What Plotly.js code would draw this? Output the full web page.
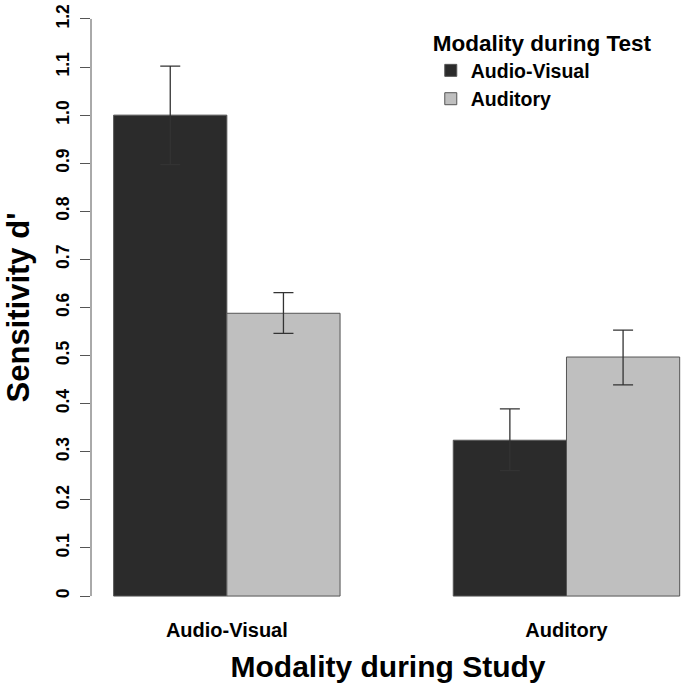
<!DOCTYPE html>
<html>
<head>
<meta charset="utf-8">
<script src="https://cdn.plot.ly/plotly-3.0.1.min.js"></script>
<style>html,body{margin:0;padding:0;background:#fff;overflow:hidden;}#chart{width:685px;height:685px;}</style>
</head>
<body>
<div id="chart"></div>
<script>
const studyCats = ['Audio-Visual', 'Auditory'];
const testNames = ['Audio-Visual', 'Auditory'];
const avTestMeans = [1.0, 0.324];
const avTestErrUp = [0.102, 0.065];
const avTestErrDown = [0.103, 0.063];
const audTestMeans = [0.588, 0.497];
const audTestErrUp = [0.043, 0.056];
const audTestErrDown = [0.042, 0.058];
const yTickVals = [0, 0.1, 0.2, 0.3, 0.4, 0.5, 0.6, 0.7, 0.8, 0.9, 1.0, 1.1, 1.2];
const yTickText = ['0', '0.1', '0.2', '0.3', '0.4', '0.5', '0.6', '0.7', '0.8', '0.9', '1.0', '1.1', '1.2'];

const FONT = 'Liberation Sans, Arial, Helvetica, sans-serif';

function barTrace(name, y, up, down, color) {
  return {
    type: 'bar', name: name, x: studyCats, y: y,
    marker: {color: color, line: {color: '#555555', width: 1}},
    error_y: {type: 'data', symmetric: false, array: up, arrayminus: down,
              color: '#333333', thickness: 1.3, width: 10},
    hoverinfo: 'skip'
  };
}

const data = [
  barTrace(testNames[0], avTestMeans, avTestErrUp, avTestErrDown, '#2b2b2b'),
  barTrace(testNames[1], audTestMeans, audTestErrUp, audTestErrDown, '#bfbfbf')
];

const layout = {
  width: 685, height: 685,
  margin: {l: 91, r: 0, t: 5, b: 75},
  paper_bgcolor: '#ffffff', plot_bgcolor: '#ffffff',
  barmode: 'group', bargap: 1/3, bargroupgap: 0,
  font: {family: FONT, color: '#000000'},
  showlegend: true,
  legend: {
    x: 0.572, y: 0.972, xanchor: 'left', yanchor: 'top',
    title: {text: '<b>Modality during Test</b>', font: {size: 22.5, family: FONT}, side: 'top'},
    font: {size: 19.5, family: FONT, weight: 'bold'},
    bgcolor: 'rgba(0,0,0,0)', traceorder: 'normal'
  },
  xaxis: {
    type: 'category', range: [-0.4, 1.349],
    showline: false, zeroline: false, showgrid: false, ticks: '',
    tickfont: {size: 20, family: FONT, weight: 'bold'},
    ticklabelstandoff: 6,
    title: {text: '<b>Modality during Study</b>', font: {size: 30, family: FONT}, standoff: 15}
  },
  yaxis: {
    range: [-0.029, 1.229],
    showline: false, zeroline: false, showgrid: false,
    ticks: 'outside', ticklen: 10, tickwidth: 1, tickcolor: '#555555',
    tickvals: yTickVals, ticktext: yTickText, tickangle: -90,
    tickfont: {size: 17.5, family: FONT, weight: 'bold'},
    ticklabelstandoff: 4,
    title: {text: '<b>Sensitivity d\'</b>', font: {size: 31, family: FONT}, standoff: 14}
  },
  shapes: [{
    type: 'line', xref: 'paper', yref: 'y', x0: 0, x1: 0, y0: 0, y1: 1.2,
    line: {color: '#555555', width: 1}
  }]
};

Plotly.newPlot('chart', data, layout, {staticPlot: true, displayModeBar: false});
</script>
</body>
</html>
